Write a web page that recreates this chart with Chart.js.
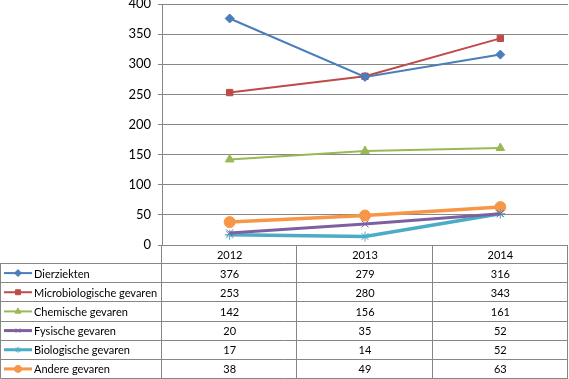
<!DOCTYPE html>
<html>
<head>
<meta charset="utf-8">
<title>Gevaren per jaar</title>
<script src="https://cdn.jsdelivr.net/npm/chart.js@4/dist/chart.umd.min.js"></script>
<style>
  html, body { margin: 0; padding: 0; background: #fff; }
  #chart { display: block; }
</style>
</head>
<body>
<canvas id="chart" width="569" height="379"></canvas>
<script>
// ==========================================
// DATA
// ==========================================

const years = ["2012", "2013", "2014"];
const seriesNames = [
  "Dierziekten",
  "Microbiologische gevaren",
  "Chemische gevaren",
  "Fysische gevaren",
  "Biologische gevaren",
  "Andere gevaren",
];

const dierziekten = [376, 279, 316];
const microbiologisch = [253, 280, 343];
const chemisch = [142, 156, 161];
const fysisch = [20, 35, 52];
const biologisch = [17, 14, 52];
const andere = [38, 49, 63];

const yTicks = [0, 50, 100, 150, 200, 250, 300, 350, 400];

// ==========================================
// STYLE
// ==========================================

const gridColor = "#868686";
const fontFamily = "Lato, 'Open Sans', sans-serif";
const fontSize = 11;

// colour, line width, point style, point radius per series (legend key radius too)
const seriesStyle = [
  { color: "#4a7ebb", width: 2, point: "rectRot", radius: 4.5, keyRadius: 3.5 },
  { color: "#be4b48", width: 2, point: "rect", radius: 4.5, keyRadius: 3.5 },
  { color: "#98b954", width: 2, point: "triangle", radius: 5, keyRadius: 3.5 },
  { color: "#7d60a0", width: 3, point: "crossRot", radius: 5, keyRadius: 3 },
  { color: "#4bacc6", width: 3.5, point: "star", radius: 5, keyRadius: 3 },
  { color: "#f79646", width: 3.5, point: "circle", radius: 5.5, keyRadius: 3.5 },
];

const seriesValues = [dierziekten, microbiologisch, chemisch, fysisch, biologisch, andere];

// ==========================================
// DATA TABLE PLUGIN (the grid under the plot)
// ==========================================

const tableTop = 263;
const tableBottom = 378;
const tableLeft = 0.5;

const dataTablePlugin = {
  id: "dataTable",
  afterDraw(chart) {
    const ctx = chart.ctx;
    const area = chart.chartArea;
    const xScale = chart.scales.x;
    const rowH = (tableBottom - tableTop) / seriesNames.length;
    const colW = (area.right - area.left) / years.length;

    ctx.save();
    ctx.strokeStyle = gridColor;
    ctx.lineWidth = 1;

    // horizontal lines of the table
    ctx.beginPath();
    for (let i = 0; i <= seriesNames.length; i++) {
      const y = Math.round(tableTop + i * rowH) + 0.5;
      ctx.moveTo(tableLeft, y);
      ctx.lineTo(area.right, y);
    }
    // vertical lines: left border, then column boundaries down from the axis
    ctx.moveTo(tableLeft, tableTop);
    ctx.lineTo(tableLeft, tableBottom + 0.5);
    for (let c = 0; c <= years.length; c++) {
      const x = Math.round(area.left + c * colW) - 0.5;
      ctx.moveTo(x, area.bottom);
      ctx.lineTo(x, tableBottom + 0.5);
    }
    ctx.stroke();

    ctx.font = fontSize + "px " + fontFamily;
    ctx.fillStyle = "#000";
    ctx.textBaseline = "middle";

    // header row with the years
    ctx.textAlign = "center";
    years.forEach((year, c) => {
      ctx.fillText(year, xScale.getPixelForValue(c), (area.bottom + tableTop) / 2 + 1);
    });

    // series rows: legend key, name, values
    seriesNames.forEach((name, i) => {
      const yMid = tableTop + (i + 0.5) * rowH + 0.5;
      const st = seriesStyle[i];

      ctx.strokeStyle = st.color;
      ctx.fillStyle = st.color;
      ctx.lineWidth = Math.min(st.width, 3);
      ctx.beginPath();
      ctx.moveTo(4, yMid);
      ctx.lineTo(32, yMid);
      ctx.stroke();
      ctx.lineWidth = 1;
      Chart.helpers.drawPoint(ctx, {
        pointStyle: st.point,
        radius: st.keyRadius,
        rotation: 0,
        borderWidth: 1,
      }, 18, yMid);

      ctx.fillStyle = "#000";
      ctx.textAlign = "left";
      ctx.fillText(name, 34, yMid + 1);

      ctx.textAlign = "center";
      seriesValues[i].forEach((v, c) => {
        ctx.fillText(String(v), xScale.getPixelForValue(c), yMid + 1);
      });
    });

    ctx.restore();
  },
};

// ==========================================
// CHART
// ==========================================

const datasets = seriesNames.map((name, i) => {
  const st = seriesStyle[i];
  return {
    label: name,
    data: seriesValues[i],
    borderColor: st.color,
    backgroundColor: st.color,
    borderWidth: st.width,
    pointStyle: st.point,
    pointRadius: st.radius,
    pointBorderColor: st.color,
    pointBackgroundColor: st.color,
    pointBorderWidth: 1,
    tension: 0,
  };
});

new Chart(document.getElementById("chart"), {
  type: "line",
  data: { labels: years, datasets: datasets },
  options: {
    responsive: false,
    animation: false,
    layout: {
      autoPadding: false,
      padding: { top: 4, right: 1, bottom: 134, left: 0 },
    },
    plugins: {
      legend: { display: false },
      tooltip: { enabled: false },
    },
    scales: {
      x: {
        display: false,
        offset: true,
      },
      y: {
        min: 0,
        max: 400,
        afterBuildTicks(scale) {
          scale.ticks = yTicks.map((v) => ({ value: v }));
        },
        afterFit(scale) {
          scale.width = 162;
          scale.paddingTop = 0;
          scale.paddingBottom = 0;
        },
        grid: { color: gridColor, tickLength: 4, lineWidth: 1 },
        border: { color: gridColor, width: 1 },
        ticks: {
          color: "#000",
          padding: 7,
          font: { family: fontFamily, size: 13 },
        },
      },
    },
  },
  plugins: [dataTablePlugin],
});
</script>
</body>
</html>
